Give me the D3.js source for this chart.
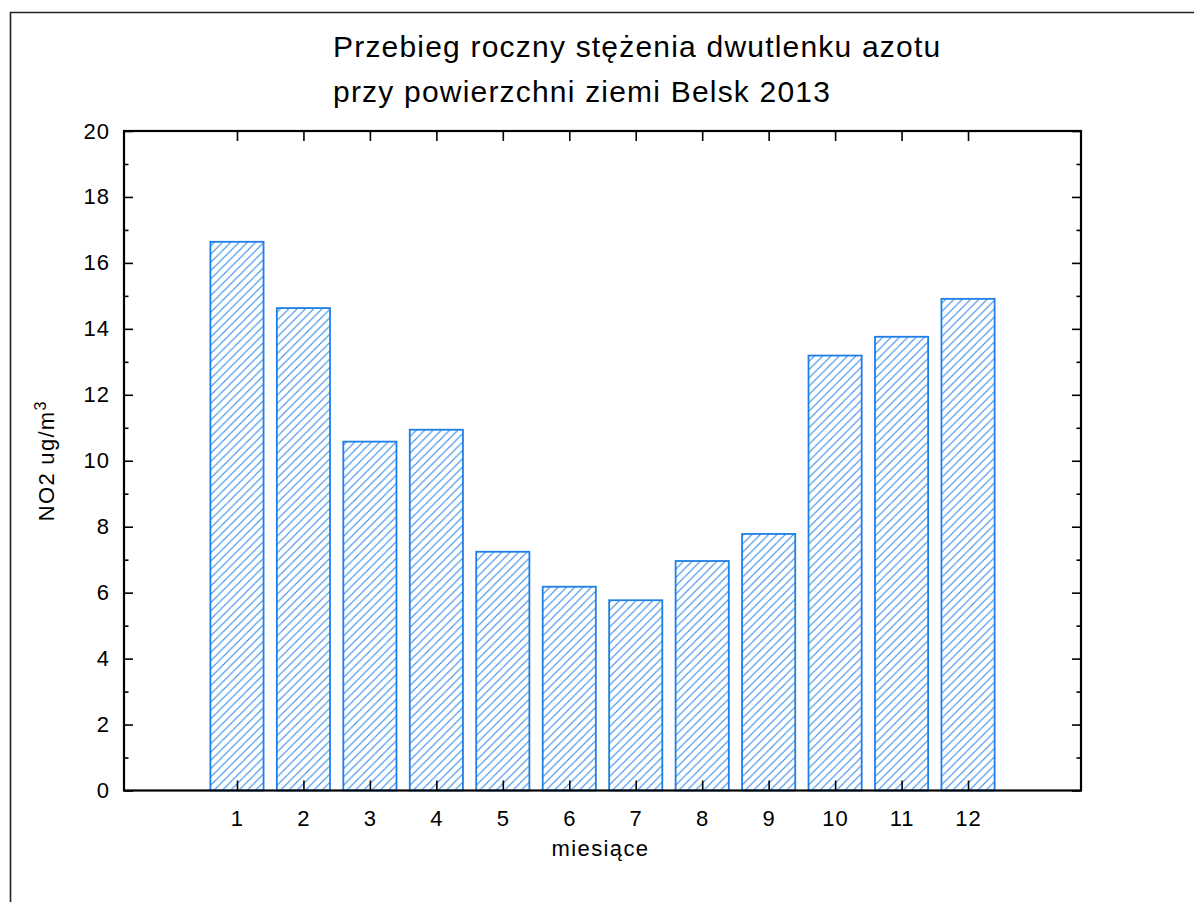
<!DOCTYPE html>
<html>
<head>
<meta charset="utf-8">
<script src="https://cdn.jsdelivr.net/npm/d3@7"></script>
<style>
  html, body { margin: 0; padding: 0; background: #fff; }
  svg { display: block; font-family: "Liberation Sans", Arial, sans-serif; }
</style>
</head>
<body>
<svg id="chart" width="1194" height="902"></svg>
<script>
// Monthly mean NO2 concentration at ground level, Belsk 2013
const months = [1, 2, 3, 4, 5, 6, 7, 8, 9, 10, 11, 12];
const no2 = [16.64, 14.63, 10.58, 10.94, 7.24, 6.18, 5.77, 6.96, 7.78, 13.19, 13.76, 14.91];
const yMajorTicks = [0, 2, 4, 6, 8, 10, 12, 14, 16, 18, 20];
const yMinorTicks = [1, 3, 5, 7, 9, 11, 13, 15, 17, 19];
const titleLines = ["Przebieg roczny stężenia dwutlenku azotu", "przy powierzchni ziemi Belsk 2013"];

const svg = d3.select("#chart");
const W = 1194, H = 902;
const plot = { left: 124, top: 131, right: 1081, bottom: 790.5 };

const x = d3.scaleLinear().domain([-0.7, 13.7]).range([plot.left, plot.right]);
const y = d3.scaleLinear().domain([0, 20]).range([plot.bottom, plot.top]);
const barW = x(0.8) - x(0);

// outer frame (left and top edges)
svg.append("path")
  .attr("d", `M10.5,${H} L10.5,12.5 L${W},12.5`)
  .attr("fill", "none").attr("stroke", "#222").attr("stroke-width", 1.6);

// hatch fill
const defs = svg.append("defs");
const pat = defs.append("pattern")
  .attr("id", "hatch").attr("patternUnits", "userSpaceOnUse")
  .attr("width", 8.3).attr("height", 8.3);
pat.append("rect").attr("width", 8.3).attr("height", 8.3).attr("fill", "#fff");
pat.append("path")
  .attr("d", "M-2,2 L2,-2 M0,8.3 L8.3,0 M6.3,10.3 L10.3,6.3")
  .attr("stroke", "#2a86ea").attr("stroke-width", 1.1);

// bars
svg.append("g").selectAll("rect")
  .data(months.map((m, i) => ({ m, v: no2[i] })))
  .join("rect")
  .attr("x", d => x(d.m) - barW / 2)
  .attr("y", d => y(d.v))
  .attr("width", barW)
  .attr("height", d => y(0) - y(d.v))
  .attr("fill", "url(#hatch)")
  .attr("stroke", "#1f7fe5")
  .attr("stroke-width", 1.8);

const font = "Liberation Sans, Arial, sans-serif";
function styleAxis(g) {
  g.attr("font-family", font).attr("font-size", 22);
  g.select(".domain").remove();
  g.selectAll(".tick line").attr("stroke", "#000").attr("stroke-width", 1.6);
  g.selectAll(".tick text").attr("fill", "#000").attr("letter-spacing", 1);
}

// left axis
svg.append("g").attr("transform", `translate(${plot.left},0)`)
  .call(d3.axisLeft(y).tickValues(yMajorTicks).tickSize(-9).tickPadding(14).tickFormat(d3.format("d")))
  .call(styleAxis);
svg.append("g").attr("transform", `translate(${plot.left},0)`)
  .call(d3.axisLeft(y).tickValues(yMinorTicks).tickSize(-4.5).tickFormat(""))
  .call(styleAxis);

// right axis
svg.append("g").attr("transform", `translate(${plot.right},0)`)
  .call(d3.axisRight(y).tickValues(yMajorTicks).tickSize(-9).tickFormat(""))
  .call(styleAxis);
svg.append("g").attr("transform", `translate(${plot.right},0)`)
  .call(d3.axisRight(y).tickValues(yMinorTicks).tickSize(-4.5).tickFormat(""))
  .call(styleAxis);

// bottom axis
svg.append("g").attr("transform", `translate(0,${plot.bottom})`)
  .call(d3.axisBottom(x).tickValues(months).tickSize(-10).tickPadding(20).tickFormat(d3.format("d")))
  .call(styleAxis);

// top axis
svg.append("g").attr("transform", `translate(0,${plot.top})`)
  .call(d3.axisTop(x).tickValues(months).tickSize(-10).tickFormat(""))
  .call(styleAxis);

// plot frame
svg.append("rect")
  .attr("x", plot.left).attr("y", plot.top)
  .attr("width", plot.right - plot.left).attr("height", plot.bottom - plot.top)
  .attr("fill", "none").attr("stroke", "#000").attr("stroke-width", 2.2);

// title
svg.append("g").selectAll("text")
  .data(titleLines)
  .join("text")
  .attr("x", 333)
  .attr("y", (d, i) => 57 + i * 45)
  .attr("font-size", 30)
  .attr("letter-spacing", 1.2)
  .attr("fill", "#000")
  .text(d => d);

// x axis label
svg.append("text")
  .attr("x", (plot.left + plot.right) / 2 - 2)
  .attr("y", 856)
  .attr("text-anchor", "middle")
  .attr("font-size", 22)
  .attr("letter-spacing", 1.4)
  .attr("fill", "#000")
  .text("miesiące");

// y axis label
const yl = svg.append("text")
  .attr("transform", `translate(54,${(plot.top + plot.bottom) / 2}) rotate(-90)`)
  .attr("text-anchor", "middle")
  .attr("font-size", 22)
  .attr("letter-spacing", 1.3)
  .attr("fill", "#000");
yl.append("tspan").text("NO2 ug/m");
yl.append("tspan").attr("dy", -8).attr("font-size", 16).text("3");
</script>
</body>
</html>
